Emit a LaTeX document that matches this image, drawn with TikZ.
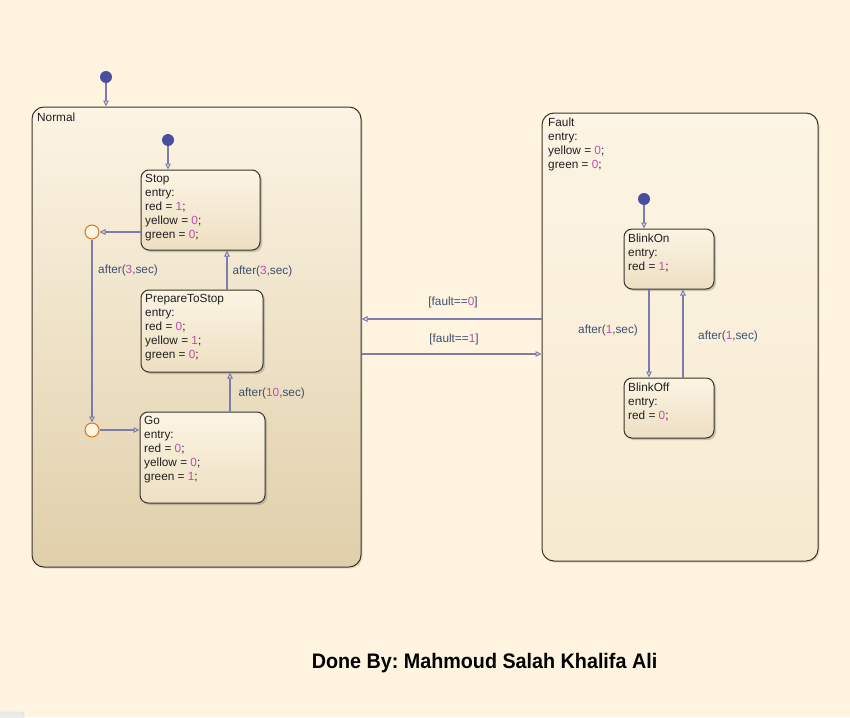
\documentclass[tikz,border=0pt]{standalone}
\usepackage{fontspec}
\setmainfont{Liberation Sans}
\usepackage{graphicx}
\usetikzlibrary{arrows.meta,shadows,calc}
\definecolor{bg}{HTML}{FEF4E0}
\definecolor{edgec}{HTML}{7C7CAE}
\definecolor{lblc}{HTML}{3C5070}
\definecolor{numc}{HTML}{C24CAC}
\definecolor{dotc}{HTML}{4A4E9E}
\definecolor{junc}{HTML}{D07A2A}
\definecolor{bordc}{HTML}{3A3428}
\newcommand\nm[1]{\textcolor{numc}{#1}}
\frenchspacing
\tikzset{
  bigstate/.style={draw=bordc, line width=1pt, rounded corners=12pt, inner sep=0pt,
    drop shadow={shadow xshift=1.5pt, shadow yshift=-1.5pt, opacity=0.25}},
  smallstate/.style={draw=bordc, line width=1pt, rounded corners=8pt, inner sep=0pt,
    top color=stA, bottom color=stB,
    drop shadow={shadow xshift=2pt, shadow yshift=-2pt, opacity=0.4}},
  txt/.style={font=\fontsize{11.8}{14}\selectfont, align=left, anchor=north west, inner sep=0pt, text=black!88},
  lbl/.style={font=\fontsize{11.8}{14}\selectfont, text=lblc, inner sep=0pt},
  tr/.style={draw=edgec, line width=1.2pt, -{Triangle[open, length=6pt, width=5.5pt, line width=1pt]}},
  initdot/.style={circle, fill=dotc, inner sep=0pt, minimum size=12pt},
  junction/.style={circle, draw=junc, fill=bg, line width=1pt, inner sep=0pt, minimum size=14pt},
}
\definecolor{stA}{HTML}{FCF4E4}
\definecolor{stB}{HTML}{EDDFC2}
\begin{document}
\begin{tikzpicture}[x=1pt,y=-1pt]
\fill[bg] (0,0) rectangle (850,717);
\useasboundingbox (0,0) rectangle (850,717);
% tiny UI artifact bottom-left
\filldraw[draw=black!20, fill=black!8, rounded corners=3pt] (-6,712) rectangle (24,724);

% Superstates
\node[bigstate, top color=stA, bottom color={rgb,255:red,224;green,207;blue,170}, minimum width=329pt, minimum height=460pt] (normal) at (196.5,337) {};
\node[bigstate, top color=stA, bottom color={rgb,255:red,246;green,234;blue,208}, minimum width=276pt, minimum height=448pt] (fault) at (680,337) {};

% Substates
\node[smallstate, minimum width=119pt, minimum height=80pt] (stop) at (200.5,210) {};
\node[smallstate, minimum width=122pt, minimum height=82pt] (prep) at (202,331) {};
\node[smallstate, minimum width=125pt, minimum height=91pt] (go) at (202.5,457.5) {};
\node[smallstate, minimum width=90pt, minimum height=60pt] (bon) at (669,259) {};
\node[smallstate, minimum width=90pt, minimum height=60pt] (boff) at (669,408) {};

% State texts
\node[txt] (tnormal) at (37,112.5) {Normal};
\node[txt] (tfault) at (548,117.5) {Fault\\entry:\\yellow = \nm{0};\\green = \nm{0};};
\node[txt] (tstop) at (145,174.5) {Stop\\entry:\\red = \nm{1};\\yellow = \nm{0};\\green = \nm{0};};
\node[txt] (tprep) at (145,294.5) {PrepareToStop\\entry:\\red = \nm{0};\\yellow = \nm{1};\\green = \nm{0};};
\node[txt] (tgo) at (144,416.5) {Go\\entry:\\red = \nm{0};\\yellow = \nm{0};\\green = \nm{1};};
\node[txt] (tbon) at (628,233.5) {BlinkOn\\entry:\\red = \nm{1};};
\node[txt] (tboff) at (628,382.5) {BlinkOff\\entry:\\red = \nm{0};};

% Initial dots and junctions
\node[initdot] (d0) at (106,77) {};
\node[initdot] (d1) at (168,140) {};
\node[initdot] (d2) at (644,199) {};
\node[junction] (j1) at (92,232) {};
\node[junction] (j2) at (92,430) {};

% Default transitions
\draw[tr] (d0) -- (d0 |- normal.north);
\draw[tr] (d1) -- (d1 |- stop.north);
\draw[tr] (d2) -- (d2 |- bon.north);

% Normal internal transitions
\draw[tr] (stop.west |- j1.west) -- (j1.east);
\draw[tr] (j1.south) -- (j2.north);
\node[lbl, anchor=west] (l1) at (98,270.5) {after(\nm{3},sec)};
\draw[tr] (j2.east) -- (go.west |- j2.east);
\draw[tr] ([xshift=25pt]prep.north) -- ([xshift=25pt]prep.north |- stop.south)
  node[lbl, anchor=west, midway, xshift=5pt, yshift=-1pt] (l2) {after(\nm{3},sec)};
\draw[tr] ([xshift=27.5pt]go.north) -- ([xshift=27.5pt]go.north |- prep.south)
  node[lbl, anchor=west, midway, xshift=8pt, yshift=-1pt] (l3) {after(\nm{10},sec)};

% Fault internal transitions
\draw[tr] ([xshift=-20pt]bon.south) -- ([xshift=-20pt]bon.south |- boff.north);
\node[lbl, anchor=west] (l4) at (578,330.5) {after(\nm{1},sec)};
\draw[tr] ([xshift=14pt]boff.north) -- ([xshift=14pt]boff.north |- bon.south);
\node[lbl, anchor=west] (l5) at (698,336.5) {after(\nm{1},sec)};

% Between superstates
\draw[tr] (fault.west |- 0,319) -- (normal.east |- 0,319);
\node[lbl] (l6) at (453,302.5) {[fault==\nm{0}]};
\draw[tr] (normal.east |- 0,354) -- (fault.west |- 0,354);
\node[lbl] (l7) at (454,339.5) {[fault==\nm{1}]};

% Title
\node[font=\fontsize{21}{24}\selectfont\bfseries, text=black, inner sep=0pt] (title) at (484.5,663) {\scalebox{0.94}[1]{Done By: Mahmoud Salah Khalifa Ali}};
\end{tikzpicture}
\end{document}
